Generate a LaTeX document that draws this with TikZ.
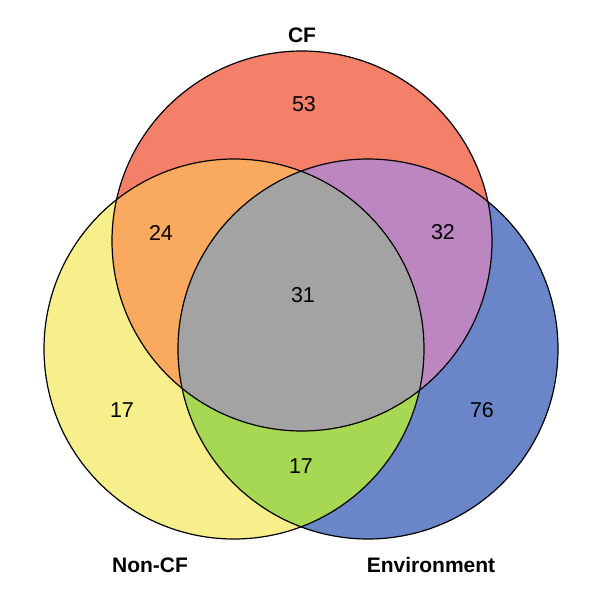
\documentclass[tikz,border=0pt]{standalone}
\usepackage{fontspec}
\setmainfont{Liberation Sans}
\definecolor{cfcol}{HTML}{F4806A}
\definecolor{nccol}{HTML}{F7EF8C}
\definecolor{envcol}{HTML}{6A86C8}
\definecolor{orcol}{HTML}{F9AA5E}
\definecolor{pucol}{HTML}{BC86C1}
\definecolor{grcol}{HTML}{A6D854}
\definecolor{gycol}{HTML}{A3A3A3}
\tikzset{
  num/.style={font=\fontsize{21.5}{21.5}\selectfont, text=black},
  setlabel/.style={font=\fontsize{21}{21}\selectfont\bfseries, text=black},
  outline/.style={draw=black, line width=1.2pt}
}
\begin{document}
\begin{tikzpicture}[x=1pt,y=-1pt]
\useasboundingbox (0,0) rectangle (602,606);
\fill[white] (0,0) rectangle (602,606);
\def\cfc{(302,241) circle[radius=190pt]}
\def\ncc{(234,349) circle[radius=190pt]}
\def\envc{(368,349) circle[radius=190pt]}
\fill[cfcol] \cfc;
\fill[nccol] \ncc;
\fill[envcol] \envc;
\begin{scope}\clip \cfc; \fill[orcol] \ncc; \end{scope}
\begin{scope}\clip \cfc; \fill[pucol] \envc; \end{scope}
\begin{scope}\clip \ncc; \fill[grcol] \envc; \end{scope}
\begin{scope}\clip \cfc; \clip \ncc; \fill[gycol] \envc; \end{scope}
\draw[outline] \cfc;
\draw[outline] \ncc;
\draw[outline] \envc;
\node[setlabel] (lcf) at (302,35) {CF};
\node[setlabel] (lnc) at (150,565) {Non-CF};
\node[setlabel] (lenv) at (431,565) {Environment};
\node[num] (n53) at (304,104) {53};
\node[num] (n24) at (161,233) {24};
\node[num] (n32) at (443,232) {32};
\node[num] (n31) at (303,295) {31};
\node[num] (n17a) at (122,410) {17};
\node[num] (n76) at (482,410) {76};
\node[num] (n17b) at (301,466) {17};
\end{tikzpicture}
\end{document}
